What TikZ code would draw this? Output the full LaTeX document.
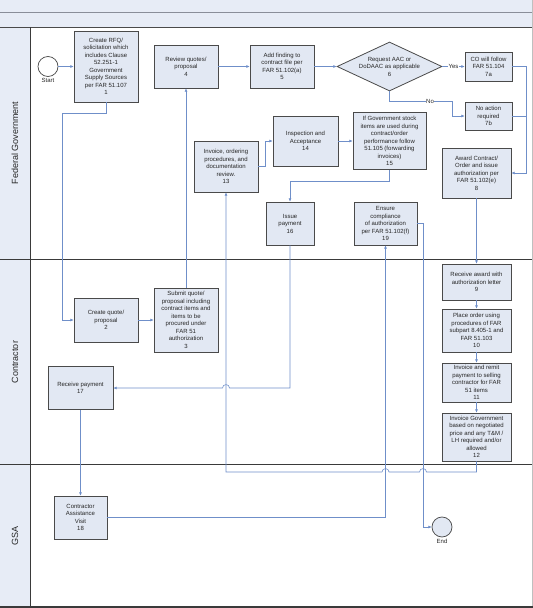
\documentclass[tikz,border=0pt]{standalone}
\usepackage{fontspec}
\setmainfont{Liberation Sans}
\usetikzlibrary{shapes.geometric,arrows.meta}
\definecolor{boxfill}{HTML}{E2E8F3}
\definecolor{boxline}{HTML}{4A4A4A}
\definecolor{flow}{HTML}{6F8FC9}
\definecolor{lanefill}{HTML}{E7ECF6}
\definecolor{laneline}{HTML}{3A3A3A}
\definecolor{headline}{HTML}{8A8E99}
\begin{document}
\begin{tikzpicture}[x=1pt,y=-1pt,
  stepbox/.style={draw=boxline, fill=boxfill, line width=0.8pt, align=center,
    font=\fontsize{6}{7.5}\selectfont, inner sep=1pt, text=black!85},
  flowline/.style={draw=flow, line width=0.6pt},
  flowarrow/.style={flowline, -{Latex[length=3.2pt,width=3pt]}},
  lanelabel/.style={rotate=90, font=\fontsize{9}{11}\selectfont, text=black!85},
  smalllabel/.style={font=\fontsize{6}{7.5}\selectfont, text=black!85, inner sep=0.6pt},
  event/.style={circle, draw=boxline, line width=0.75pt, minimum size=20pt, inner sep=0pt}]
\useasboundingbox (0,0) rectangle (533,608);
% header and lanes
\fill[lanefill] (0,0) rectangle (532,27);
\fill[lanefill] (0,27) rectangle (30.7,607);
\draw[headline, line width=1.3pt] (0,12.8) -- (532,12.8);
\draw[boxline, line width=1pt] (0,27) -- (532,27);
\draw[laneline, line width=0.9pt] (30.7,27) -- (30.7,607);
\draw[laneline, line width=0.9pt] (0,259) -- (532,259);
\draw[laneline, line width=0.9pt] (0,464) -- (532,464);
\draw[black!25, line width=0.6pt] (532,0) -- (532,607);
\draw[laneline, line width=2pt] (0,607) -- (533,607);
\node[lanelabel] (lfed) at (15,143) {Federal Government};
\node[lanelabel] (lcon) at (15,362) {Contractor};
\node[lanelabel] (lgsa) at (15,535.5) {GSA};
% events
\node[event, fill=white] (start) at (48,66.5) {};
\node[smalllabel, anchor=north] (startlbl) at ([yshift=-0.5pt]start.south) {Start};
\node[event, fill=boxfill] (end) at (442,527) {};
\node[smalllabel, anchor=north] (endlbl) at ([yshift=-0.5pt]end.south) {End};
% steps
\node[stepbox, minimum width=64pt, minimum height=71pt] (n1) at (106,66.5)
  {Create RFQ/\\solicitation which\\includes Clause\\52.251-1\\Government\\Supply Sources\\per FAR 51.107\\1};
\node[stepbox, minimum width=64pt, minimum height=43pt] (n4) at (186,66.5)
  {Review quotes/\\proposal\\4};
\node[stepbox, minimum width=64pt, minimum height=43pt] (n5) at (282,66.5)
  {Add finding to\\contract file per\\FAR 51.102(a)\\5};
\node[stepbox, shape=diamond, aspect=2.14, inner sep=0pt, minimum width=105pt, minimum height=49pt] (n6) at (389.5,66.5)
  {Request AAC or\\DoDAAC as applicable\\6};
\node[stepbox, minimum width=47pt, minimum height=29pt] (n7a) at (488.5,66.5)
  {CO will follow\\FAR 51.104\\7a};
\node[stepbox, minimum width=47pt, minimum height=28pt] (n7b) at (488.5,116)
  {No action\\required\\7b};
\node[stepbox, minimum width=69pt, minimum height=50pt] (n8) at (476.5,173)
  {Award Contract/\\Order and issue\\authorization per\\FAR 51.102(e)\\8};
\node[stepbox, minimum width=64pt, minimum height=51pt] (n13) at (226,166.5)
  {Invoice, ordering\\procedures, and\\documentation\\review.\\13};
\node[stepbox, minimum width=65pt, minimum height=50pt] (n14) at (305.5,141)
  {Inspection and\\Acceptance\\14};
\node[stepbox, minimum width=73pt, minimum height=57pt] (n15) at (389.5,141)
  {If Government stock\\items are used during\\contract/order\\performance follow\\51.105 (forwarding\\invoices)\\15};
\node[stepbox, minimum width=48pt, minimum height=43pt] (n16) at (290,223.5)
  {Issue\\payment\\16};
\node[stepbox, minimum width=63pt, minimum height=43pt] (n19) at (385.5,223.5)
  {Ensure\\compliance\\of authorization\\per FAR 51.102(f)\\19};
\node[stepbox, minimum width=69pt, minimum height=36pt] (n9) at (476.5,282)
  {Receive award with\\authorization letter\\9};
\node[stepbox, minimum width=69pt, minimum height=43pt] (n10) at (476.5,330.5)
  {Place order using\\procedures of FAR\\subpart 8.405-1 and\\FAR 51.103\\10};
\node[stepbox, minimum width=69pt, minimum height=39pt] (n11) at (476.5,382.5)
  {Invoice and remit\\payment to selling\\contractor for FAR\\51 items\\11};
\node[stepbox, minimum width=69pt, minimum height=48pt] (n12) at (476.5,437)
  {Invoice Government\\based on negotiated\\price and any T\&M /\\LH required and/or\\allowed\\12};
\node[stepbox, minimum width=64pt, minimum height=44pt] (n2) at (106,320)
  {Create quote/\\proposal\\2};
\node[stepbox, minimum width=64pt, minimum height=64pt] (n3) at (186,320)
  {Submit quote/\\proposal including\\contract items and\\items to be\\procured under\\FAR 51\\authorization\\3};
\node[stepbox, minimum width=65pt, minimum height=43pt] (n17) at (80.5,388)
  {Receive payment\\17};
\node[stepbox, minimum width=53pt, minimum height=43pt] (n18) at (80.5,517.5)
  {Contractor\\Assistance\\Visit\\18};
% connectors
\draw[flowarrow] (start) -- (n1.west);
\draw[flowarrow] (n1.south) -- ++(0,11) -| ([xshift=-11pt]n2.west) -- (n2.west);
\draw[flowarrow] (n2.east) -- (n3.west);
\draw[flowarrow] (n3.north) -- (n4.south);
\draw[flowarrow] (n4.east) -- (n5.west);
\draw[flowarrow] (n5.east) -- (n6.west);
\draw[flowarrow] (n6.east) -- node[smalllabel, fill=white] (yes) {Yes} (n7a.west);
\draw[flowarrow] (n6.south) -- ++(0,10) -| ([xshift=-12pt]n7b.west) -- (n7b.west);
\node[smalllabel, fill=white] (no) at (430,101) {No};
\coordinate (rbus) at (526,173);
\draw[flowarrow] (n7a.east) -| (rbus) -- (n8.east);
\draw[flowline] (n7b.east) -- (n7b.east -| rbus);
\draw[flowarrow] (n8.south) -- (n9.north);
\draw[flowarrow] (n9.south) -- (n10.north);
\draw[flowarrow] (n10.south) -- (n11.north);
\draw[flowarrow] (n11.south) -- (n12.north);
\draw[flowarrow] (n12.south) |- (426.5,472) .. controls (426.5,467.5) and (419.5,467.5) .. (419.5,472)
  -- (389,472) .. controls (389,467.5) and (382,467.5) .. (382,472) -| (n13.south);
\draw[flowarrow] (n13.east) -- ++(7,0) |- (n14.west);
\draw[flowarrow] (n14.east) -- (n14.east -| n15.west);
\draw[flowarrow] (n15.south) -- ++(0,11) -| (n16.north);
\draw[flowarrow] (n16.south) |- (229.5,388) .. controls (229.5,383.5) and (222.5,383.5) .. (222.5,388) -- (n17.east);
\draw[flowarrow] (n17.south) -- (n18.north);
\draw[flowarrow] (n18.east) -| (n19.south);
\draw[flowarrow] (n19.east) -- ++(6,0) |- (end.west);
\end{tikzpicture}
\end{document}
